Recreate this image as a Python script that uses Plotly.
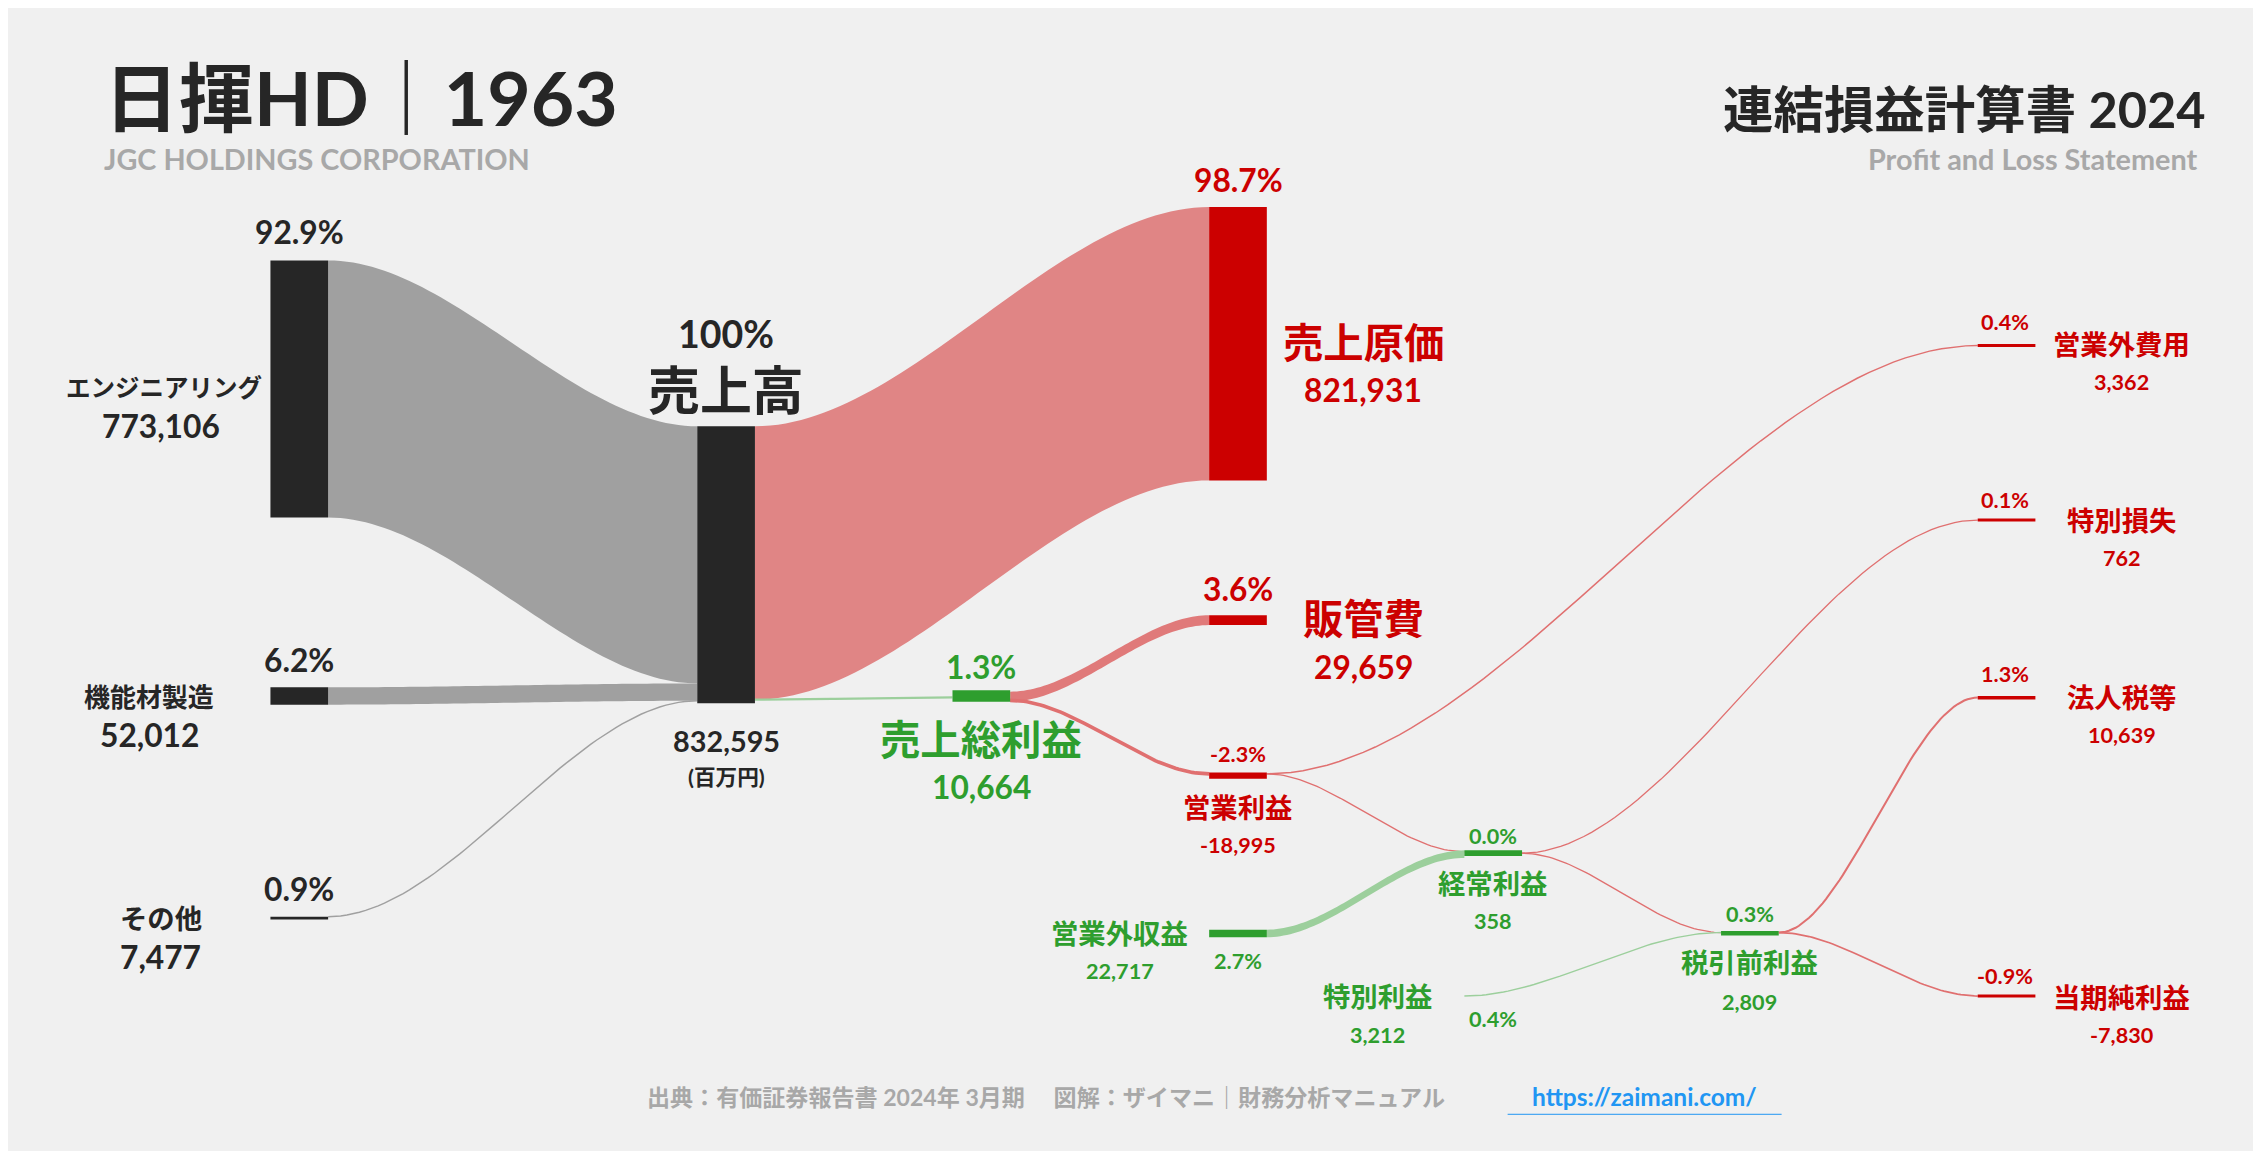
import numpy as np
import plotly.graph_objects as go

# ---------------- data ----------------
segments = ["エンジニアリング", "機能材製造", "その他"]
segment_values = [773106, 52012, 7477]
segment_pct = ["92.9%", "6.2%", "0.9%"]

revenue = 832595
cost_of_sales = 821931
gross_profit = 10664
sga = 29659
operating_profit = -18995
nonop_income = 22717
nonop_expense = 3362
ordinary_profit = 358
special_gain = 3212
special_loss = 762
pretax_profit = 2809
income_tax = 10639
net_income = -7830

pct = {"cost": "98.7%", "gross": "1.3%", "sga": "3.6%", "op": "-2.3%", "nie": "0.4%",
       "sl": "0.1%", "tax": "1.3%", "net": "-0.9%", "ord": "0.0%", "nii": "2.7%",
       "sg": "0.4%", "pre": "0.3%"}

# ---------------- style ----------------
W, H = 1568, 798
S = 2261 / W
BG = "#f0f0f0"; DARK = "#262626"; RED = "#cc0000"; GREEN = "#2e9e2e"
GRAY_B = "#a0a0a0"; RED_B = "#e08585"; GREEN_B = "#9ccf9c"; RED_L = "#e07070"
FONT = "Lato, 'Noto Sans CJK JP', sans-serif"
k = 192 / revenue  # px per unit

fig = go.Figure()

def band(x0, x1, y0t, y1t, val, color, thin=False, lw=1.0):
    h = abs(val) * k
    t = np.linspace(0, 1, 60)
    s = t * t * (3 - 2 * t)
    xs = x0 + (x1 - x0) * t
    if thin or h < 2.5:
        ys = y0t + (y1t - y0t) * s
        fig.add_trace(go.Scatter(x=xs, y=ys, mode="lines",
                                 line=dict(color=color, width=lw * S),
                                 hoverinfo="skip", showlegend=False))
        return
    top = y0t + (y1t - y0t) * s
    bot = top + h
    fig.add_trace(go.Scatter(x=np.concatenate([xs, xs[::-1]]),
                             y=np.concatenate([top, bot[::-1]]),
                             fill="toself", fillcolor=color, mode="none",
                             hoverinfo="skip", showlegend=False))

def node(x, ytop, val, color, minh=2.5, w=40):
    h = max(abs(val) * k, minh)
    fig.add_shape(type="rect", x0=x, x1=x + w, y0=ytop, y1=ytop + h,
                  fillcolor=color, line=dict(width=0), layer="above")

# ---- segment -> revenue ----
seg_tops = [175, 471, 630]
rv_top = 290
acc = rv_top
for top, v in zip(seg_tops, segment_values):
    band(222, 478, top, acc, v, GRAY_B)
    node(182, top, v, DARK, minh=2)
    acc += v * k

node(478, rv_top, revenue, DARK)
band(518, 833, rv_top, 138, cost_of_sales, RED_B)
node(833, 138, cost_of_sales, RED)
band(518, 655, rv_top + cost_of_sales * k, 478, gross_profit, GREEN_B, thin=True, lw=1.5)
node(655, 473, sga, GREEN, minh=8)
band(695, 833, 474, 421, sga, "#e07a7a")
node(833, 421, sga, RED)
band(695, 833, 480, 531, operating_profit, RED_L, thin=True, lw=2.5)
node(833, 530, operating_profit, RED, minh=2.5)
band(873, 1366, 531, 234, nonop_expense, RED_L, thin=True)
node(1366, 233, nonop_expense, RED, minh=2)
band(873, 1010, 531, 585, operating_profit, RED_L, thin=True, lw=0.9)
band(873, 1010, 639, 584, nonop_income, GREEN_B)
node(833, 639, nonop_income, GREEN, minh=5)
node(1010, 584, ordinary_profit, GREEN, minh=4)
band(1050, 1366, 586, 355, special_loss, RED_L, thin=True, lw=0.9)
node(1366, 354, special_loss, RED, minh=2)
band(1050, 1188, 586, 641, ordinary_profit, RED_L, thin=True, lw=0.9)
band(1010, 1188, 685, 641, special_gain, GREEN_B, thin=True)
node(1188, 640, pretax_profit, GREEN, minh=3)
band(1228, 1366, 641, 478, income_tax, RED_L, thin=True, lw=1.4)
node(1366, 477, income_tax, RED, minh=2)
band(1228, 1366, 641, 685, net_income, RED_L, thin=True, lw=1.2)
node(1366, 684, net_income, RED, minh=2)

ann = []
def T(x, y, text, size, color=DARK, anchor="center", bold=True):
    ann.append(dict(x=x, y=y, text=f"<b>{text}</b>" if bold else text, showarrow=False,
                    xanchor=anchor, yanchor="middle",
                    font=dict(size=size * S, color=color, family=FONT)))

f = lambda v: f"{v:,}"
T(65, 62, "日揮HD｜1963", 52, anchor="left")
T(65, 105, "JGC HOLDINGS CORPORATION", 20, "#a8a8a8", anchor="left")
T(1525, 70, "連結損益計算書 2024", 35, anchor="right")
T(1520, 105, "Profit and Loss Statement", 20, "#a8a8a8", anchor="right")

T(202, 155, segment_pct[0], 22); T(108, 263, segments[0], 17); T(106, 290, f(segment_values[0]), 22)
T(202, 452, segment_pct[1], 22); T(98, 478, segments[1], 18); T(98, 504, f(segment_values[1]), 22)
T(202, 611, segment_pct[2], 22); T(106, 631, segments[2], 19); T(106, 658, f(segment_values[2]), 22)
T(498, 226, "100%", 26); T(498, 265, "売上高", 36)
T(498, 508, f(revenue), 20); T(498, 533, "(百万円)", 15)
T(853, 119, pct["cost"], 22, RED); T(940, 232, "売上原価", 28, RED); T(940, 265, f(cost_of_sales), 22, RED)
T(853, 403, pct["sga"], 22, RED); T(940, 423, "販管費", 28, RED); T(940, 457, f(sga), 22, RED)
T(675, 457, pct["gross"], 22, GREEN); T(675, 507, "売上総利益", 28, GREEN); T(675, 540, f(gross_profit), 22, GREEN)
T(853, 517, pct["op"], 15, RED); T(853, 554, "営業利益", 19, RED); T(853, 580, f(operating_profit), 15, RED)
T(1385, 218, pct["nie"], 15, RED); T(1466, 233, "営業外費用", 19, RED); T(1466, 259, f(nonop_expense), 15, RED)
T(1385, 341, pct["sl"], 15, RED); T(1466, 355, "特別損失", 19, RED); T(1466, 381, f(special_loss), 15, RED)
T(1385, 462, pct["tax"], 15, RED); T(1466, 478, "法人税等", 19, RED); T(1466, 504, f(income_tax), 15, RED)
T(1385, 671, pct["net"], 15, RED); T(1466, 686, "当期純利益", 19, RED); T(1466, 712, f(net_income), 15, RED)
T(1030, 574, pct["ord"], 15, GREEN); T(1030, 607, "経常利益", 19, GREEN); T(1030, 633, f(ordinary_profit), 15, GREEN)
T(771, 642, "営業外収益", 19, GREEN); T(771, 668, f(nonop_income), 15, GREEN); T(853, 661, pct["nii"], 15, GREEN)
T(950, 685, "特別利益", 19, GREEN); T(950, 712, f(special_gain), 15, GREEN); T(1030, 701, pct["sg"], 15, GREEN)
T(1208, 628, pct["pre"], 15, GREEN); T(1208, 662, "税引前利益", 19, GREEN); T(1208, 689, f(pretax_profit), 15, GREEN)
T(720, 755, "出典：有価証券報告書 2024年 3月期　 図解：ザイマニ｜財務分析マニュアル", 16, "#a8a8a8")
T(1135, 755, "https://zaimani.com/", 17, "#2196f3")
fig.add_shape(type="line", x0=1040, x1=1230, y0=767, y1=767, line=dict(color="#2196f3", width=1))

fig.update_layout(width=2261, height=1151, margin=dict(l=0, r=0, t=0, b=0),
                  paper_bgcolor=BG, plot_bgcolor=BG, annotations=ann,
                  xaxis=dict(range=[0, W], visible=False, fixedrange=True),
                  yaxis=dict(range=[H, 0], visible=False, fixedrange=True))
fig.write_html("out.html", config={"displayModeBar": False})
